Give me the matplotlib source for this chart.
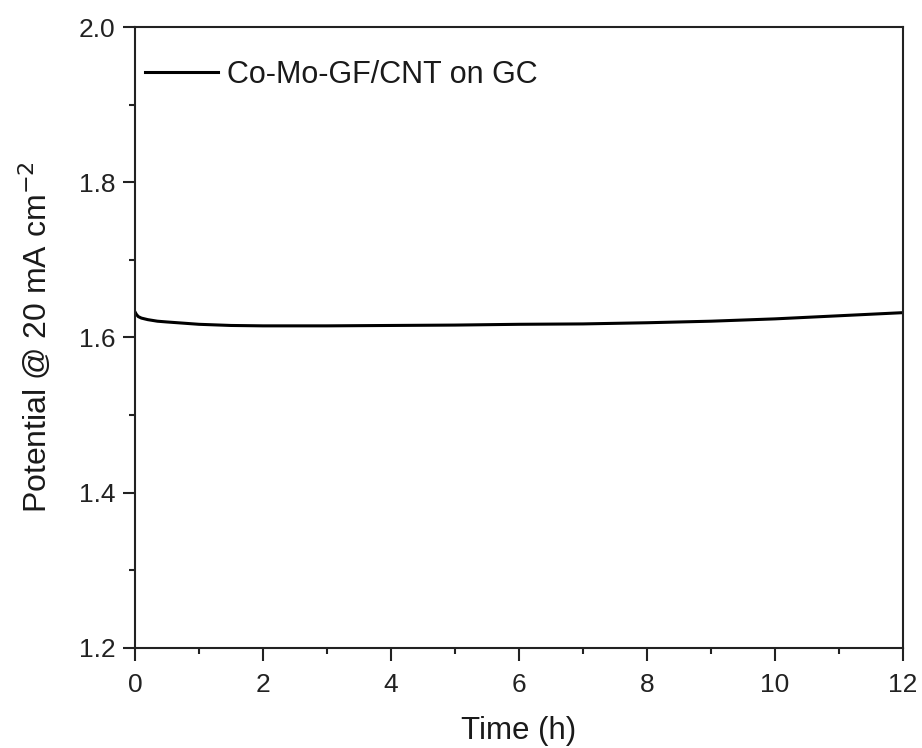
import matplotlib.pyplot as plt
from matplotlib.ticker import MultipleLocator

plt.rcParams['font.family'] = ['Liberation Sans', 'DejaVu Sans']

# chronopotentiometry trace
time_h = [0, 0.02, 0.05, 0.1, 0.2, 0.35, 0.5, 0.75, 1, 1.5, 2, 3, 4, 5, 6, 7, 8, 9, 10, 11, 12]
potential = [1.633, 1.630, 1.627, 1.625, 1.623, 1.621, 1.620, 1.6185, 1.617, 1.6155, 1.615,
             1.615, 1.6155, 1.616, 1.617, 1.6175, 1.619, 1.621, 1.624, 1.628, 1.632]
label = 'Co-Mo-GF/CNT on GC'

fig = plt.figure(figsize=(9.22, 7.48), dpi=100)
ax = fig.add_axes([0.1464, 0.1337, 0.833, 0.8302])

ax.plot(time_h, potential, color='black', lw=2.2, label=label)

ax.set_xlim(0, 12)
ax.set_ylim(1.2, 2.0)
ax.xaxis.set_major_locator(MultipleLocator(2))
ax.xaxis.set_minor_locator(MultipleLocator(1))
ax.yaxis.set_major_locator(MultipleLocator(0.2))
ax.yaxis.set_minor_locator(MultipleLocator(0.1))
ax.yaxis.set_major_formatter(plt.FuncFormatter(lambda v, p: f'{v:.1f}'))

ax.tick_params(which='major', direction='out', length=9, width=1.5, labelsize=19,
               colors='#222222')
ax.tick_params(which='minor', direction='out', length=4, width=1.5, colors='#222222')
ax.tick_params(axis='x', which='major', pad=9)
ax.tick_params(axis='y', which='major', pad=5)
for s in ax.spines.values():
    s.set_linewidth(1.5)
    s.set_color('#222222')

ax.set_xlabel('Time (h)', fontsize=22.5, labelpad=14, color='#1a1a1a')
ax.set_ylabel('Potential @ 20 mA cm$^{-2}$', fontsize=23, labelpad=19, color='#1a1a1a')

leg = ax.legend(loc='upper left', bbox_to_anchor=(0.013, 0.947), frameon=False,
                fontsize=22, handlelength=2.4, handletextpad=0.3,
                borderaxespad=0, borderpad=0)
for t in leg.get_texts():
    t.set_color('#1a1a1a')

fig.savefig('out.png', dpi=100)
